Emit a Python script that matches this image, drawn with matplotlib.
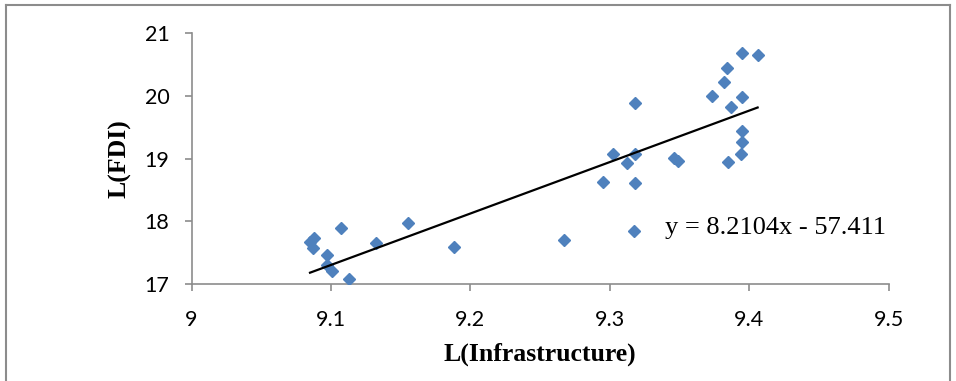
import matplotlib
matplotlib.use("Agg")
import matplotlib.pyplot as plt
from matplotlib.lines import Line2D
import numpy as np

# Data
infra = [9.085, 9.088, 9.087, 9.097, 9.097, 9.101, 9.113, 9.107, 9.132, 9.155,
         9.188, 9.267, 9.295, 9.302, 9.312, 9.318, 9.318, 9.317, 9.318, 9.346,
         9.349, 9.373, 9.382, 9.384, 9.387, 9.385, 9.394, 9.395, 9.395, 9.395,
         9.395, 9.406]
fdi = [17.67, 17.73, 17.57, 17.46, 17.30, 17.21, 17.08, 17.90, 17.65, 17.97,
       17.59, 17.70, 18.63, 19.08, 18.93, 19.08, 18.61, 17.85, 19.88, 19.01,
       18.97, 20.00, 20.23, 20.45, 19.82, 18.95, 19.08, 19.27, 19.44, 19.99,
       20.69, 20.65]
slope = 8.2104
intercept = -57.411
x_ticks = [9, 9.1, 9.2, 9.3, 9.4, 9.5]
x_tick_labels = ["9", "9.1", "9.2", "9.3", "9.4", "9.5"]
y_ticks = [17, 18, 19, 20, 21]
equation = "y = 8.2104x - 57.411"
x_label = "L(Infrastructure)"
y_label = "L(FDI)"

W, H = 956, 381
fig = plt.figure(figsize=(W / 100, H / 100), dpi=100)
fig.patch.set_facecolor("white")

left, right, top, bottom = 191.5, 888.7, 33.3, 284.0
ax = fig.add_axes([left / W, 1 - bottom / H, (right - left) / W, (bottom - top) / H])

ax.plot(infra, fdi, linestyle="none", marker="D", markersize=6.5,
        color="#4F81BD", markeredgecolor="#4F81BD", zorder=3)

xs = np.array([min(infra), max(infra)])
ax.plot(xs, slope * xs + intercept, color="black", linewidth=1.6, zorder=4)

ax.set_xlim(9, 9.5)
ax.set_ylim(17, 21)
ax.set_xticks(x_ticks)
ax.set_xticklabels(x_tick_labels)
ax.set_yticks(y_ticks)
ax.set_yticklabels([str(v) for v in y_ticks])

for s in ["top", "right"]:
    ax.spines[s].set_visible(False)
for s in ["left", "bottom"]:
    ax.spines[s].set_color("#8C8C8C")
    ax.spines[s].set_linewidth(1.2)
ax.tick_params(axis="both", direction="out", length=5, width=1.2, color="#8C8C8C",
               labelsize=15.5, labelcolor="black")
ax.tick_params(axis="x", pad=14)
ax.tick_params(axis="y", pad=11)
for lab in ax.get_xticklabels() + ax.get_yticklabels():
    lab.set_fontfamily("Lato")

ax.set_xlabel(x_label, fontfamily="Liberation Serif", fontweight="bold", fontsize=18.5, labelpad=9)
ax.set_ylabel(y_label, fontfamily="Liberation Serif", fontweight="bold", fontsize=18.5, labelpad=9)

ax.text(665 / W, 1 - 228 / H, equation, transform=fig.transFigure,
        fontfamily="Liberation Serif", fontsize=19, va="center", ha="left")

# outer frame
fc = "#8C8C8C"
fig.add_artist(Line2D([6 / W, 6 / W], [0, 1 - 5 / H], transform=fig.transFigure, color=fc, lw=1.5))
fig.add_artist(Line2D([6 / W, 950 / W], [1 - 5 / H, 1 - 5 / H], transform=fig.transFigure, color=fc, lw=1.5))
fig.add_artist(Line2D([950 / W, 950 / W], [0, 1 - 5 / H], transform=fig.transFigure, color=fc, lw=1.5))

fig.savefig("out.png", dpi=100, facecolor="white")
